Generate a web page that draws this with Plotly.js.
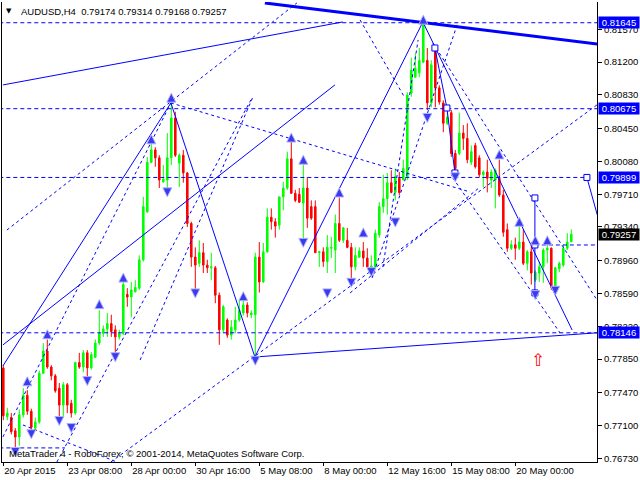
<!DOCTYPE html>
<html><head><meta charset="utf-8">
<script src="https://cdn.plot.ly/plotly-3.0.1.min.js"></script>
<style>html,body{margin:0;padding:0;background:#fff}#chart{width:640px;height:480px}</style>
</head><body><div id="chart"></div>
<script>
// ---- OHLC (AUDUSD H4) ----
const openP = [0.7775,0.7720,0.7719,0.7704,0.7697,0.7722,0.7744,0.7726,0.7707,0.7714,
0.7769,0.7794,0.7776,0.7766,0.7752,0.7733,0.7756,0.7735,0.7724,0.7781,
0.7776,0.7792,0.7775,0.7787,0.7803,0.7814,0.7819,0.7825,0.7818,0.7810,
0.7814,0.7858,0.7855,0.7861,0.7865,0.7897,0.7951,0.8007,0.8021,0.8012,
0.7985,0.7987,0.8012,0.8057,0.8006,0.8015,0.7995,0.7938,0.7900,0.7893,
0.7905,0.7891,0.7888,0.7888,0.7857,0.7818,0.7829,0.7812,0.7818,0.7829,
0.7837,0.7846,0.7835,0.7835,0.7900,0.7872,0.7906,0.7945,0.7940,0.7936,
0.7968,0.7978,0.8011,0.7972,0.7971,0.7961,0.7978,0.7957,0.7957,0.7905,
0.7906,0.7895,0.7910,0.7908,0.7938,0.7919,0.7919,0.7911,0.7889,0.7900,
0.7907,0.7899,0.7889,0.7889,0.7925,0.7957,0.7966,0.7984,0.7973,0.7989,
0.7987,0.7990,0.8085,0.8103,0.8108,0.8120,0.8122,0.8074,0.8136,0.8091,
0.8074,0.8051,0.8063,0.8017,0.8017,0.8040,0.8034,0.8007,0.8026,0.8012,
0.7993,0.7996,0.7987,0.7987,0.7989,0.7970,0.7931,0.7910,0.7914,0.7910,
0.7917,0.7893,0.7906,0.7874,0.7882,0.7889,0.7908,0.7910,0.7866,0.7887,
0.7891,0.7910,0.79174];
const highP = [0.7778,0.7730,0.7724,0.7707,0.7728,0.7752,0.7750,0.7729,0.7719,0.7772,
0.7803,0.7807,0.7778,0.7768,0.7758,0.7759,0.7758,0.7739,0.7782,0.7792,
0.7795,0.7795,0.7793,0.7807,0.7840,0.7823,0.7837,0.7835,0.7823,0.7818,
0.7872,0.7865,0.7872,0.7874,0.7902,0.7968,0.8013,0.8029,0.8024,0.8015,
0.8004,0.8040,0.8074,0.8064,0.8017,0.8021,0.7996,0.7940,0.7911,0.7919,
0.7916,0.7897,0.7905,0.7890,0.7860,0.7846,0.7831,0.7829,0.7844,0.7852,
0.7852,0.7849,0.7840,0.7905,0.7917,0.7916,0.7955,0.7955,0.7944,0.7968,
0.7985,0.8019,0.8032,0.7976,0.7978,0.8004,0.7990,0.7964,0.7964,0.7907,
0.7911,0.7925,0.7923,0.7948,0.7967,0.7934,0.7933,0.7916,0.7911,0.7911,
0.7917,0.7910,0.7902,0.7931,0.7962,0.7993,0.7995,0.7998,0.8000,0.7996,
0.8010,0.8086,0.8125,0.8130,0.8136,0.8166,0.8136,0.8122,0.8138,0.8094,
0.8077,0.8063,0.8066,0.8021,0.8063,0.8049,0.8051,0.8026,0.8029,0.8015,
0.7998,0.8010,0.7999,0.8000,0.8010,0.7976,0.7938,0.7919,0.7922,0.7934,
0.7931,0.7908,0.7916,0.7885,0.7895,0.7910,0.7914,0.7911,0.7889,0.7895,
0.7914,0.7927,0.79314];
const lowP = [0.7716,0.7716,0.7700,0.7685,0.7687,0.7719,0.7722,0.7705,0.7705,0.7712,
0.7768,0.7774,0.7761,0.7747,0.7719,0.7719,0.7724,0.7719,0.7722,0.7774,
0.7770,0.7758,0.7773,0.7786,0.7801,0.7810,0.7810,0.7810,0.7790,0.7807,
0.7812,0.7844,0.7832,0.7860,0.7863,0.7895,0.7950,0.8006,0.8002,0.7978,
0.7984,0.7976,0.8004,0.8013,0.7979,0.7984,0.7934,0.7889,0.7861,0.7889,
0.7882,0.7882,0.7874,0.7848,0.7801,0.7814,0.7809,0.7807,0.7814,0.7827,
0.7834,0.7832,0.7831,0.7787,0.7860,0.7871,0.7905,0.7931,0.7922,0.7931,
0.7953,0.7976,0.7972,0.7962,0.7961,0.7919,0.7933,0.7942,0.7905,0.7889,
0.7889,0.7882,0.7899,0.7882,0.7917,0.7916,0.7910,0.7876,0.7885,0.7899,
0.7889,0.7888,0.7883,0.7888,0.7922,0.7950,0.7948,0.7972,0.7964,0.7970,
0.7987,0.7987,0.8081,0.8103,0.8103,0.8119,0.8066,0.8069,0.8069,0.8072,
0.8041,0.8049,0.8013,0.7998,0.8015,0.8021,0.8006,0.8004,0.8000,0.7990,
0.7979,0.7973,0.7978,0.7955,0.7968,0.7923,0.7906,0.7908,0.7897,0.7908,
0.7891,0.7885,0.7869,0.7872,0.7872,0.7871,0.7893,0.7863,0.7865,0.7883,
0.7889,0.7908,0.79168];
const closeP = [0.7721,0.7724,0.7703,0.7697,0.7722,0.7744,0.7726,0.7708,0.7714,0.7769,
0.7794,0.7776,0.7766,0.7749,0.7733,0.7756,0.7733,0.7724,0.7781,0.7776,
0.7792,0.7775,0.7790,0.7803,0.7814,0.7819,0.7825,0.7816,0.7810,0.7814,
0.7869,0.7855,0.7863,0.7866,0.7897,0.7957,0.8007,0.8021,0.8012,0.7987,
0.7988,0.8012,0.8057,0.8015,0.8015,0.7995,0.7938,0.7900,0.7891,0.7905,
0.7891,0.7888,0.7889,0.7857,0.7818,0.7844,0.7812,0.7821,0.7829,0.7840,
0.7846,0.7837,0.7837,0.7900,0.7872,0.7906,0.7945,0.7940,0.7935,0.7968,
0.7978,0.8011,0.7972,0.7964,0.7962,0.7978,0.7944,0.7944,0.7905,0.7906,
0.7895,0.7911,0.7911,0.7938,0.7919,0.7933,0.7911,0.7889,0.7902,0.7907,
0.7899,0.7889,0.7890,0.7927,0.7957,0.7966,0.7984,0.7973,0.7991,0.7973,
0.8000,0.8083,0.8111,0.8113,0.8122,0.8164,0.8074,0.8117,0.8091,0.8075,
0.8051,0.8058,0.8017,0.8000,0.8040,0.8034,0.8010,0.8019,0.8002,0.7993,
0.7996,0.7989,0.7996,0.7998,0.7970,0.7928,0.7910,0.7914,0.7910,0.7917,
0.7893,0.7906,0.7882,0.7883,0.7889,0.7908,0.7910,0.7866,0.7888,0.7893,
0.7910,0.7917,0.79257];

// ---- axes ----
const tickBars = [0,16,32,48,64,80,96,112,128];
const tickLabels = ['20 Apr 2015','23 Apr 08:00','28 Apr 00:00','30 Apr 16:00','5 May 08:00','8 May 00:00','12 May 16:00','15 May 08:00','20 May 00:00'];
const priceTicks = [0.81570,0.81200,0.80830,0.80450,0.80080,0.79710,0.79340,0.78960,0.78590,0.78220,0.77850,0.77470,0.77100,0.76730];

// ---- horizontal levels ----
const labelLevels = [0.81645,0.80675,0.79899,0.78146];
const levelPrices = [0.81645,0.80675,0.79899,0.78146,0.79137,0.76847];
const levelFromBar = [-1,-1,-1,-1,132.9,-1];
const levelToBar   = [150,150,145.9,150,150,15.4];

// ---- trend lines [bar0, price0, bar1, price1] ----
const thickTrend = [[65.4,0.81868,148.5,0.81405]];
const solidTrends = [
 [-0.1,0.80943,84.9,0.81654],
 [-0.1,0.78009,82.9,0.80943],
 [-0.1,0.77772,41.9,0.80740],
 [41.9,0.80740,62.9,0.77873],
 [62.9,0.77873,104.9,0.81654],
 [104.9,0.81654,142.2,0.78178],
 [62.9,0.77873,148.5,0.78146],
 [145.9,0.79899,148.5,0.79476],
 [132.9,0.79668,132.9,0.78596]
];
const dashedTrends = [
 [0.9,0.79306,73.4,0.81868],
 [-0.1,0.76971,41.9,0.80740],
 [13.4,0.76688,61.9,0.80774],
 [34.2,0.77839,62.4,0.80807],
 [41.9,0.80740,116.7,0.79735],
 [26.9,0.76688,148.4,0.80717],
 [107.4,0.81417,148.4,0.78517],
 [112.4,0.79893,139.2,0.78144],
 [86.7,0.78596,119.2,0.79792],
 [89.2,0.81676,100.4,0.80796],
 [92.2,0.78765,113.7,0.81654],
 [94.9,0.78889,103.7,0.81451],
 [4.9,0.77106,28.4,0.76688]
];
const zigzagBars = [107.9,110.9,112.9];
const zigzagPrices = [0.81360,0.80683,0.79950];
const squareBars = [107.9,110.9,112.9,132.9,132.9,132.9,145.9];
const squarePrices = [0.81360,0.80683,0.79950,0.79668,0.79137,0.78596,0.79899];

// ---- fractal arrows ----
const upArrowBars = [6,11,24,30,37,42,60,72,75,84,90,105,124,129,133,136];
const upArrowPrices = [0.7765,0.7818,0.7852,0.7882,0.8038,0.8085,0.7861,0.8040,0.8015,0.7978,0.7933,0.8173,0.8021,0.7945,0.7924,0.7924];
const downArrowBars = [3,7,14,17,21,28,41,48,63,75,81,87,92,98,106,113,133,138];
const downArrowPrices = [0.7675,0.7695,0.7710,0.7702,0.7755,0.7782,0.7968,0.7854,0.7778,0.7911,0.7854,0.7866,0.7878,0.7934,0.8052,0.7985,0.7852,0.7857];
const signalBars = [133.7];
const signalPrices = [0.7782];

const barIdx = openP.map((_, i) => i);
const FONT = 'Liberation Sans, Arial, sans-serif';
const BLUE = '#0000ff';
const traces = [];

traces.push({
  type: 'candlestick', x: barIdx, open: openP, high: highP, low: lowP, close: closeP,
  increasing: {line: {color: '#00ff00', width: 1}, fillcolor: '#00ff00'},
  decreasing: {line: {color: '#ff0000', width: 1}, fillcolor: '#ff0000'},
  whiskerwidth: 0, hoverinfo: 'skip', showlegend: false
});

function seg(arr, dash, width) {
  arr.forEach(s => traces.push({
    type: 'scatter', mode: 'lines', x: [s[0], s[2]], y: [s[1], s[3]],
    line: {color: BLUE, width: width, dash: dash}, hoverinfo: 'skip', showlegend: false
  }));
}
levelPrices.forEach((p, i) => traces.push({
  type: 'scatter', mode: 'lines', x: [levelFromBar[i], levelToBar[i]], y: [p, p],
  line: {color: BLUE, width: 1, dash: '4px,3px'}, hoverinfo: 'skip', showlegend: false
}));
seg(dashedTrends, '3px,3px', 1);
seg(solidTrends, 'solid', 1);
seg(thickTrend, 'solid', 3);
traces.push({type: 'scatter', mode: 'lines', x: zigzagBars, y: zigzagPrices,
  line: {color: BLUE, width: 1}, hoverinfo: 'skip', showlegend: false});
traces.push({type: 'scatter', mode: 'markers', x: squareBars, y: squarePrices,
  marker: {symbol: 'square', size: 6, color: '#ffffff', line: {color: BLUE, width: 1}},
  hoverinfo: 'skip', showlegend: false});
traces.push({type: 'scatter', mode: 'markers', x: upArrowBars, y: upArrowPrices,
  marker: {symbol: 'arrow-up', size: 9, color: '#3a3aee', line: {color: '#b0b0ff', width: 1}},
  hoverinfo: 'skip', showlegend: false});
traces.push({type: 'scatter', mode: 'markers', x: downArrowBars, y: downArrowPrices,
  marker: {symbol: 'arrow-down', size: 9, color: '#3a3aee', line: {color: '#b0b0ff', width: 1}},
  hoverinfo: 'skip', showlegend: false});
traces.push({type: 'scatter', mode: 'text', x: signalBars, y: signalPrices, text: ['⇧'],
  textfont: {family: 'DejaVu Sans', size: 17, color: '#ff0000'}, hoverinfo: 'skip', showlegend: false});

const last = openP.length - 1;
const annotations = [];
labelLevels.forEach(p => annotations.push({
  xref: 'paper', x: 1, xanchor: 'left', xshift: 1, yref: 'y', y: p, yanchor: 'middle',
  text: p.toFixed(5), showarrow: false, bgcolor: BLUE, width: 40, height: 11, borderpad: 0,
  font: {family: FONT, size: 9.5, color: '#ffffff'}
}));
annotations.push({
  xref: 'paper', x: 1, xanchor: 'left', xshift: 1, yref: 'y', y: closeP[last], yanchor: 'middle',
  text: closeP[last].toFixed(5), showarrow: false, bgcolor: '#000000', width: 40, height: 11, borderpad: 0,
  font: {family: FONT, size: 9.5, color: '#ffffff'}
});
annotations.push({xref: 'paper', yref: 'paper', x: 0.0126, y: 0.9804, xanchor: 'center', yanchor: 'middle',
  text: '▼', showarrow: false, font: {family: 'DejaVu Sans', size: 7, color: '#000000'}});
annotations.push({xref: 'paper', yref: 'paper', x: 0.0286, y: 0.9804, xanchor: 'left', yanchor: 'middle',
  text: 'AUDUSD,H4  ' + [openP[last], highP[last], lowP[last], closeP[last]].map(v => v.toFixed(5)).join(' '),
  showarrow: false, font: {family: FONT, size: 9.5, color: '#000000'}});
annotations.push({xref: 'paper', yref: 'paper', x: 0.0084, y: 0.0174, xanchor: 'left', yanchor: 'middle',
  text: 'MetaTrader 4 - RoboForex, © 2001-2014, MetaQuotes Software Corp.',
  showarrow: false, font: {family: FONT, size: 9.5, color: '#000000'}});

const layout = {
  width: 640, height: 480,
  margin: {l: 2, r: 43, t: 2, b: 18, pad: 0},
  paper_bgcolor: '#ffffff', plot_bgcolor: '#ffffff',
  showlegend: false, boxgap: 0.45, hovermode: false,
  xaxis: {
    range: [-0.325, 148.425], tickvals: tickBars, ticktext: tickLabels,
    ticks: 'outside', ticklen: 3, tickcolor: '#000000', ticklabelposition: 'outside right',
    tickangle: 0, ticklabelstandoff: 0,
    showline: true, linecolor: '#000000', linewidth: 1, showgrid: false, zeroline: false,
    rangeslider: {visible: false}, fixedrange: true,
    tickfont: {family: FONT, size: 9.5, color: '#000000'}
  },
  yaxis: {
    side: 'right', range: [0.76688, 0.81879], tickvals: priceTicks,
    ticktext: priceTicks.map(v => v.toFixed(5)),
    ticks: 'outside', ticklen: 4, tickcolor: '#000000',
    showline: true, mirror: true, linecolor: '#000000', linewidth: 1,
    showgrid: false, zeroline: false, fixedrange: true,
    tickfont: {family: FONT, size: 9.5, color: '#000000'}
  },
  annotations: annotations
};
Plotly.newPlot('chart', traces, layout, {displayModeBar: false, staticPlot: true});
</script>
</body></html>
